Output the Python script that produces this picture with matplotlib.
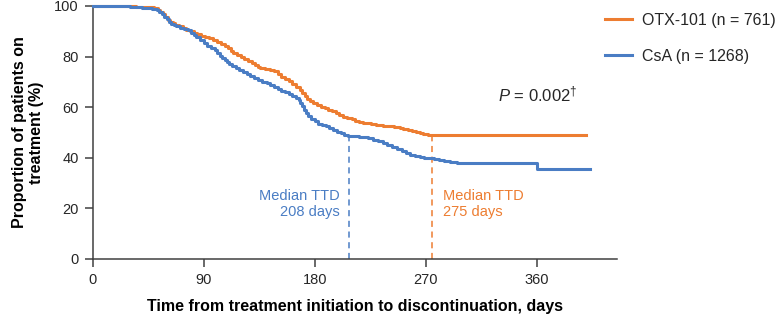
import matplotlib
matplotlib.use("Agg")
import matplotlib.pyplot as plt

plt.rcParams["font.family"] = ["Liberation Sans", "DejaVu Sans"]
plt.rcParams["mathtext.fontset"] = "custom"
plt.rcParams["mathtext.rm"] = "Liberation Sans"
plt.rcParams["mathtext.it"] = "Liberation Sans:italic"

# ---- data (days, % on treatment) ----
otx_days = [0, 20, 35, 45, 50, 53, 55, 57, 59, 61, 63, 65, 67, 70, 73, 76,
            79, 82, 85, 88, 91, 94, 98, 101, 104, 107, 110, 112, 114, 117,
            120, 123, 126, 129, 132, 134, 136, 140, 144, 147, 150, 153, 156,
            159, 162, 165, 168, 170, 172, 174, 176, 179, 182, 185, 188, 191,
            194, 197, 200, 203, 206, 210, 213, 216, 219, 222, 226, 230, 235,
            240, 244, 249, 252, 256, 259, 262, 265, 268, 272, 400]
otx_pct = [100, 100, 99.8, 99.5, 99.2, 98.6, 97.8, 96.8, 95.6, 94.6, 93.8,
           93.1, 92.5, 91.9, 91.3, 90.7, 90.1, 89.5, 88.9, 88.3, 87.7, 87.2,
           86.5, 85.8, 85.0, 84.2, 83.3, 82.4, 81.5, 80.7, 80.0, 79.2, 78.4,
           77.4, 76.5, 75.8, 75.4, 75.1, 74.8, 74.3, 73.2, 72.1, 71.1, 70.2,
           69.2, 68.1, 66.9, 65.6, 64.5, 63.3, 62.3, 61.7, 61.0, 60.2, 59.5,
           59.0, 58.5, 57.6, 56.8, 56.2, 55.7, 55.2, 54.7, 54.3, 53.9, 53.6,
           53.3, 53.0, 52.7, 52.4, 52.1, 51.7, 51.2, 50.8, 50.5, 50.2, 49.7,
           49.3, 49.0, 49.0]

csa_days = [0, 20, 30, 40, 48, 52, 54, 56, 58, 60, 62, 64, 66, 68, 71, 74,
            77, 80, 82, 84, 87, 90, 93, 96, 99, 101, 103, 105, 107, 109, 111,
            113, 116, 119, 122, 125, 128, 131, 134, 137, 141, 144, 147, 150,
            153, 156, 159, 162, 165, 167, 168.5, 170, 171.5, 173, 175, 177,
            180, 183, 186, 189, 192, 195, 198, 201, 204, 207, 211, 216, 220,
            223, 227, 231, 235, 239, 243, 247, 251, 254, 257, 261, 265, 269,
            273, 277, 281, 285, 290, 295, 300, 360, 403]
csa_pct = [100, 99.9, 99.7, 99.4, 99.0, 98.6, 97.8, 96.9, 95.8, 94.8, 93.8,
           93.0, 92.4, 91.9, 91.4, 91.0, 90.4, 89.4, 88.5, 87.6, 86.4, 85.3,
           84.2, 83.4, 82.5, 81.5, 80.4, 79.6, 78.6, 77.8, 77.1, 76.4, 75.6,
           74.8, 74.0, 73.1, 72.2, 71.4, 70.7, 70.1, 69.4, 68.6, 67.8, 67.2,
           66.6, 65.9, 65.3, 64.6, 63.8, 63.0, 61.8, 60.3, 59.0, 57.8, 56.6,
           55.5, 54.6, 53.5, 52.9, 52.4, 51.8, 51.1, 50.3, 49.7, 49.2, 48.8,
           48.5, 48.3, 48.2, 47.8, 47.1, 46.5, 45.8, 45.1, 44.3, 43.4, 42.5,
           41.8, 41.2, 40.7, 40.4, 40.1, 39.8, 39.5, 39.1, 38.8, 38.5, 38.1,
           37.8, 35.5, 35.5]

labels = ["OTX-101 (n = 761)", "CsA (n = 1268)"]
median_days = [275, 208]
median_pct = [49.0, 48.6]
x_ticks = [0, 90, 180, 270, 360]
y_ticks = [0, 20, 40, 60, 80, 100]

C_OTX = "#ED7D31"
C_CSA = "#4A7DC4"
C_AXIS = "#404040"
C_TEXT = "#262626"

fig = plt.figure(figsize=(7.77, 3.21), dpi=100)
ax = fig.add_axes([92.5 / 777, 1 - 259 / 321, (617 - 92.5) / 777, (259 - 6) / 321])

ax.step(otx_days, otx_pct, where="post", color=C_OTX, lw=2.2,
        label=labels[0], clip_on=False, zorder=3)
ax.step(csa_days, csa_pct, where="post", color=C_CSA, lw=2.2,
        label=labels[1], clip_on=False, zorder=4)

# median markers
ax.plot([median_days[1]] * 2, [0, median_pct[1]], color=C_CSA, lw=1.1,
        dashes=(4, 3), zorder=2)
ax.plot([median_days[0]] * 2, [0, median_pct[0]], color=C_OTX, lw=1.1,
        dashes=(4, 3), zorder=2)
ax.text(200, 21.7, "Median TTD\n208 days", color=C_CSA, fontsize=10.5,
        ha="right", va="center", multialignment="right", linespacing=1.2)
ax.text(284, 21.7, "Median TTD\n275 days", color=C_OTX, fontsize=10.5,
        ha="left", va="center", multialignment="left", linespacing=1.2)

ax.text(328.5, 65.2, r"$\mathit{P}$ = 0.002$^{\dagger}$", fontsize=12,
        color=C_TEXT, ha="left", va="center")

ax.set_xlim(0, 425)
ax.set_ylim(0, 100)
ax.set_xticks(x_ticks)
ax.set_yticks(y_ticks)
for s in ["top", "right"]:
    ax.spines[s].set_visible(False)
for s in ["left", "bottom"]:
    ax.spines[s].set_color(C_AXIS)
    ax.spines[s].set_linewidth(1.1)
ax.tick_params(direction="out", length=6, width=1.1, color=C_AXIS,
               labelsize=10.5, labelcolor=C_TEXT, pad=4)

ax.set_xlabel("Time from treatment initiation to discontinuation, days",
              fontsize=11.5, fontweight="bold", color="black", labelpad=9)
ax.set_ylabel("Proportion of patients on\ntreatment (%)", fontsize=11.5,
              fontweight="bold", color="black", labelpad=7, linespacing=1.15)

ax.legend(loc="upper left", bbox_to_anchor=(605 / 777, 1 - 13 / 321),
          bbox_transform=fig.transFigure, frameon=False, fontsize=11.5,
          borderpad=0, borderaxespad=0, handlelength=1.7, handletextpad=0.6,
          labelspacing=1.3, labelcolor=C_TEXT)

fig.savefig("out.png", dpi=100, facecolor="white")
